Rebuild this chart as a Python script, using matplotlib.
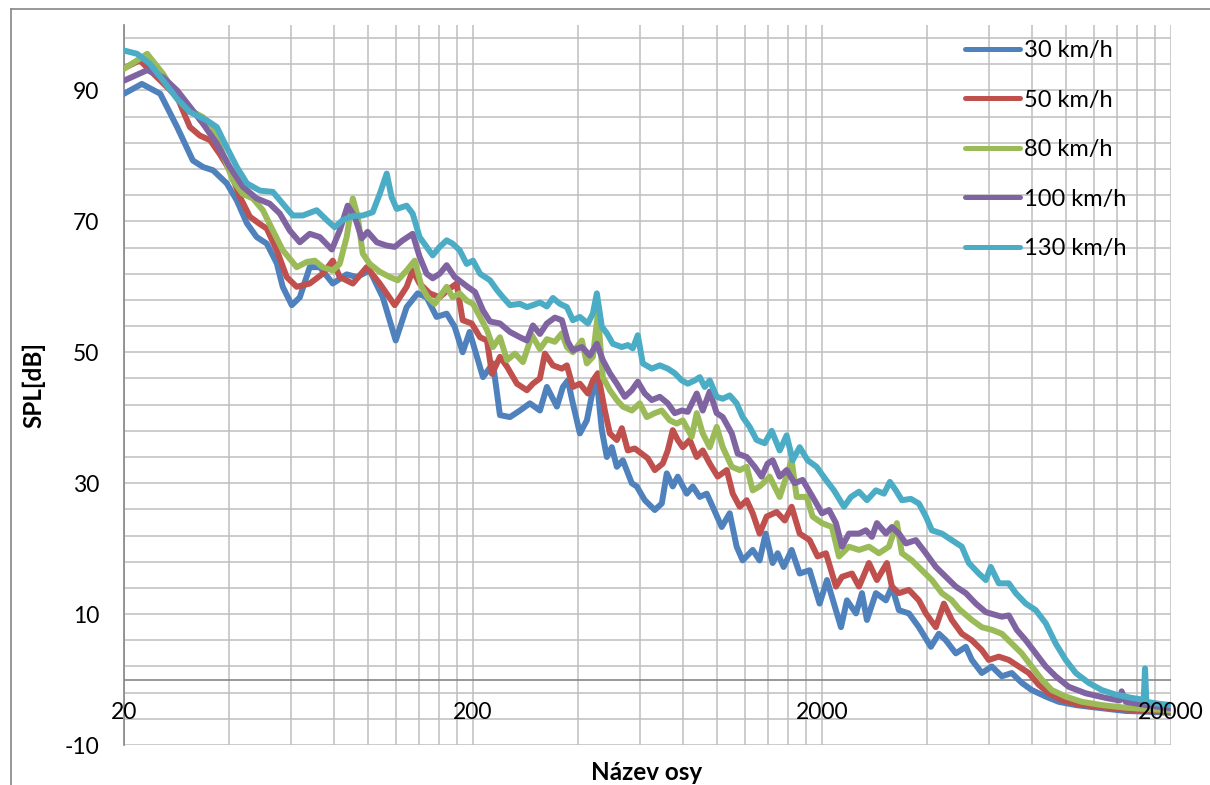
import numpy as np
import matplotlib
matplotlib.use("Agg")
import matplotlib.pyplot as plt
from matplotlib.lines import Line2D
from matplotlib.ticker import NullFormatter

plt.rcParams["font.family"] = ["Lato", "DejaVu Sans"]
plt.rcParams["axes.unicode_minus"] = False

# ---- data: frequency (Hz) and SPL (dB) per vehicle speed ----
f_30 = [20.0, 22.5, 25.4, 28.4, 31.5, 33.7, 36.0, 39.4, 42.1, 45.0, 48.0, 51.3, 54.8, 57.0,
        60.5, 63.8, 68.1, 72.8, 79.3, 86.9, 92.9, 101.2, 110.3, 120.1, 129.1, 138.8, 147.3,
        157.3, 168.1, 177.2, 186.8, 195.6, 213.6, 228.2, 238.9, 255.3, 272.6, 291.1, 311.0,
        325.6, 347.9, 361.9, 374.0, 386.5, 404.8, 423.9, 441.0, 452.8, 467.9, 483.6, 499.8,
        516.6, 537.4, 570.2, 589.3, 621.3, 663.6, 694.9, 718.2, 747.1, 772.2, 819.4, 852.4,
        892.7, 934.8, 972.5, 1032, 1088, 1139, 1185, 1266, 1325, 1379, 1444, 1493, 1553, 1637,
        1726, 1843, 1969, 2067, 2164, 2267, 2358, 2503, 2603, 2690, 2854, 3049, 3172, 3322,
        3549, 3790, 4102, 4324, 4528, 4836, 5166, 5374, 5740, 6131, 6549, 6995, 7471, 7980,
        8752, 9535, 10670, 11850, 13250, 14830, 16920, 20000]
spl_30 = [89.5, 91.0, 89.5, 84.4, 79.3, 78.3, 77.8, 75.8, 73.2, 69.7, 67.6, 66.6, 63.6, 60.0,
          57.2, 58.4, 63.0, 63.0, 60.5, 61.9, 61.5, 62.5, 58.4, 51.8, 56.9, 59.0, 58.4,
          55.4, 55.9, 53.9, 50.0, 53.1, 46.2, 48.3, 40.4, 40.1, 41.1, 42.2, 41.1,
          44.7, 41.7, 44.7, 45.7, 42.2, 37.6, 39.6, 44.2, 45.7, 38.1, 34.0, 35.5,
          32.5, 33.5, 30.0, 29.5, 27.4, 25.9, 26.9, 31.5, 29.5, 31.0, 28.4, 29.5,
          27.9, 28.4, 26.4, 23.3, 25.4, 20.3, 18.2, 19.8, 18.2, 22.3, 17.8, 19.3, 17.2, 19.8,
          16.2, 16.7, 11.6, 15.2, 11.6, 8.0, 12.1, 10.1, 13.2, 9.1, 13.2, 12.1, 14.2, 10.6,
          10.1, 8.0, 5.0, 7.0, 6.0, 4.0, 5.0, 3.0, 1.0, 2.0, 0.5, 1.0, -0.5, -1.6,
          -2.6, -3.4, -3.9, -4.2, -4.5, -4.8, -4.9, -5.1]

f_50 = [20.0, 22.2, 28.4, 30.9, 33.0, 35.3, 37.6, 40.2, 43.0, 45.9, 49.0, 51.3, 54.8, 58.5,
        62.5, 68.1, 74.2, 79.3, 83.0, 90.5, 99.2, 108.1, 119.3, 129.1, 134.3, 140.6, 150.3,
        160.5, 169.2, 179.5, 186.8, 198.2, 209.5, 219.3, 226.7, 238.9, 250.3, 267.2, 285.4,
        297.0, 311.0, 321.4, 338.8, 359.5, 371.5, 386.5, 404.8, 426.7, 441.0, 455.8, 477.3,
        493.3, 516.6, 533.9, 555.4, 581.6, 609.1, 633.6, 663.6, 699.5, 722.9, 747.1, 772.2,
        798.0, 835.8, 875.2, 910.5, 953.5, 1005, 1067, 1110, 1162, 1217, 1266, 1325, 1388,
        1483, 1564, 1637, 1726, 1843, 1943, 2053, 2193, 2282, 2437, 2553, 2726, 2873, 3069,
        3172, 3322, 3549, 3790, 3969, 4239, 4469, 4710, 5031, 5374, 5740, 6011, 6420, 6858,
        7325, 7825, 8358, 8927, 9725, 10880, 12410, 14250, 16920, 20000]
spl_50 = [93.4, 94.6, 89.0, 84.4, 83.1, 82.4, 80.3, 77.8, 73.7, 70.7, 69.6, 68.9, 65.6, 61.5,
          60.0, 60.5, 62.0, 64.0, 61.5, 60.5, 63.0, 60.5, 57.2, 60.0, 62.5, 60.5, 59.0,
          58.4, 59.5, 60.5, 54.9, 54.4, 52.3, 51.8, 46.7, 49.3, 47.8, 45.2, 44.2,
          45.2, 46.0, 49.8, 48.0, 47.5, 48.0, 44.7, 45.2, 43.7, 45.7, 46.8, 41.1,
          37.6, 36.6, 38.4, 35.0, 35.3, 34.5, 33.8, 32.0, 33.0, 35.0, 38.1, 36.6,
          35.5, 36.6, 34.0, 35.0, 33.0, 31.0, 32.0, 28.4, 26.4, 27.4, 25.4, 22.3, 24.9,
          25.6, 24.3, 26.4, 22.3, 21.3, 18.8, 19.3, 14.2, 15.7, 16.2, 14.2, 17.8, 15.2, 17.8,
          14.2, 13.2, 13.7, 12.1, 10.1, 8.0, 11.6, 9.1, 7.0, 6.0, 4.5, 3.0, 3.5, 3.0,
          2.0, 1.0, -0.8, -2.1, -3.1, -3.8, -4.2, -4.5, -4.8, -4.9]

f_80 = [20.0, 23.3, 25.9, 28.4, 30.9, 33.7, 36.0, 38.4, 41.0, 43.8, 46.8, 50.0, 53.4, 57.0,
        62.5, 66.8, 70.4, 74.2, 79.3, 83.0, 86.9, 90.5, 93.5, 96.6, 101.2, 108.1, 115.5,
        121.7, 129.1, 136.1, 142.5, 148.3, 155.3, 168.1, 174.8, 183.1, 191.8, 200.0, 209.5,
        219.3, 228.2, 238.9, 250.3, 263.8, 278.0, 295.1, 311.0, 325.6, 343.3, 359.5, 371.5,
        386.5, 410.2, 423.9, 441.0, 455.8, 471.0, 493.3, 516.6, 537.4, 570.2, 601.1, 629.4,
        663.6, 694.9, 732.5, 767.1, 798.0, 846.8, 875.2, 910.5, 953.5, 998.4, 1039, 1103,
        1162, 1217, 1266, 1325, 1388, 1416, 1513, 1637, 1692, 1807, 1880, 2000, 2136, 2237,
        2389, 2553, 2726, 2911, 3110, 3278, 3388, 3619, 3865, 4129, 4410, 4710, 4933, 5374,
        5740, 6131, 6549, 6995, 7471, 7980, 8524, 9105, 9984, 11100, 12660, 14830, 16920,
        20000]
spl_80 = [93.3, 95.6, 92.5, 89.0, 87.0, 85.9, 84.4, 80.3, 76.3, 74.2, 73.5, 71.7, 68.6, 65.6,
          63.0, 63.8, 64.0, 63.0, 62.5, 63.5, 67.6, 73.5, 70.7, 65.1, 63.5, 62.3, 61.5,
          61.0, 62.5, 64.0, 60.0, 58.4, 57.4, 60.0, 58.4, 59.0, 57.9, 57.4, 55.4,
          53.4, 50.8, 52.3, 48.8, 49.8, 48.5, 52.6, 50.5, 52.0, 51.6, 52.9, 50.8,
          50.0, 51.8, 48.3, 49.3, 55.9, 46.2, 44.2, 42.7, 41.7, 41.1, 42.2, 40.1,
          40.7, 41.1, 39.6, 39.1, 39.6, 37.1, 40.7, 37.6, 35.5, 38.6, 35.5, 32.5,
          32.0, 32.5, 28.9, 29.5, 30.5, 31.0, 27.9, 33.5, 27.9, 27.9, 24.9, 23.9, 23.3, 18.8,
          20.3, 19.8, 20.3, 19.3, 20.3, 23.9, 19.3, 18.2, 16.7, 15.2, 13.2, 12.1, 10.8, 9.1,
          8.0, 7.6, 7.0, 5.5, 4.0, 2.0, 0.0, -1.6, -2.6, -3.4, -3.9, -4.3, -4.5,
          -4.7]

f_100 = [20.0, 23.3, 25.9, 28.4, 30.9, 33.7, 36.9, 40.2, 43.8, 48.0, 52.3, 55.9, 59.7, 63.8,
         68.1, 72.8, 78.8, 83.0, 87.5, 91.7, 96.0, 99.8, 106.0, 113.2, 119.3, 125.8, 134.3,
         140.6, 147.3, 153.3, 160.5, 168.1, 177.2, 185.5, 193.0, 202.7, 213.6, 223.7, 238.9,
         255.3, 272.6, 285.4, 297.0, 311.0, 325.6, 343.3, 359.5, 374.0, 386.5, 410.2, 432.4,
         452.8, 471.0, 493.3, 516.6, 544.5, 570.2, 593.2, 621.3, 650.6, 685.8, 722.9, 757.0,
         792.8, 824.8, 875.2, 910.5, 953.5, 998.4, 1039, 1103, 1147, 1217, 1283, 1343, 1397,
         1444, 1513, 1584, 1670, 1760, 1880, 2000, 2095, 2193, 2282, 2389, 2553, 2672, 2780,
         2873, 3049, 3172, 3322, 3479, 3715, 3969, 4239, 4528, 4836, 5166, 5518, 5893, 6549,
         6858, 7229, 7671, 8194, 8752, 9348, 10180, 11390, 12990, 14250, 14440, 14830, 16920,
         20000]
spl_100 = [91.5, 93.1, 92.0, 90.0, 87.5, 84.9, 81.9, 78.3, 75.3, 73.5, 72.7, 71.2, 68.6, 66.8,
           68.1, 67.6, 65.7, 68.6, 72.4, 70.7, 67.4, 68.4, 66.8, 66.3, 66.1, 67.1, 68.1,
           64.6, 62.0, 61.3, 62.0, 63.3, 61.5, 60.7, 60.0, 59.2, 56.4, 54.7, 54.4,
           53.1, 52.3, 51.8, 54.1, 52.8, 54.4, 55.3, 54.9, 51.6, 50.3, 50.8, 49.5,
           51.3, 48.8, 46.8, 45.2, 43.2, 44.2, 45.5, 43.7, 42.7, 43.2, 42.2, 40.7,
           41.1, 40.9, 43.7, 41.1, 44.0, 40.7, 40.1, 37.6, 34.5, 34.0, 32.5, 31.0, 33.0,
           33.5, 31.0, 32.0, 30.0, 30.5, 27.9, 25.4, 25.9, 23.9, 20.3, 22.3, 22.3, 22.8, 21.8,
           23.9, 22.3, 23.3, 22.3, 20.8, 21.3, 19.3, 17.2, 15.7, 14.2, 13.2, 11.6, 10.3, 9.6,
           9.8, 7.6, 6.0, 4.0, 2.0, 0.5, -1.1, -2.1, -2.8, -3.2, -1.8, -3.4, -3.9,
           -4.4]

f_130 = [20.0, 21.8, 23.7, 25.9, 28.4, 30.9, 34.6, 36.9, 39.4, 42.1, 45.0, 49.0, 53.4, 57.0,
         60.9, 65.1, 71.3, 76.2, 80.3, 84.7, 90.5, 96.6, 103.2, 108.1, 113.2, 116.9, 120.9,
         129.1, 134.3, 140.6, 147.3, 153.3, 160.5, 168.1, 174.8, 183.1, 191.8, 200.0, 209.5,
         223.7, 234.3, 243.7, 255.3, 272.6, 285.4, 297.0, 311.0, 325.6, 338.8, 354.9, 371.5,
         386.5, 404.8, 426.7, 441.0, 452.8, 467.9, 483.6, 503.1, 533.9, 555.4, 574.0, 593.2,
         613.1, 650.6, 685.8, 722.9, 757.0, 792.8, 824.8, 863.7, 892.7, 922.6, 953.5, 998.4,
         1039, 1088, 1139, 1185, 1241, 1299, 1370, 1435, 1513, 1584, 1648, 1726, 1819, 1930,
         2053, 2164, 2312, 2421, 2553, 2690, 2854, 3010, 3130, 3256, 3388, 3595, 3790, 3969,
         4129, 4410, 4710, 5031, 5269, 5628, 5893, 6091, 6420, 6858, 7182, 7671, 8194, 8752,
         9348, 9984, 10670, 11620, 12660, 13880, 15430, 16700, 16850, 17000, 18430, 20000]
spl_130 = [96.1, 95.6, 94.1, 91.5, 88.7, 86.7, 85.4, 84.4, 81.3, 78.3, 75.8, 74.7, 74.5, 72.7,
           70.9, 70.9, 71.7, 70.2, 69.1, 70.2, 70.8, 70.9, 71.4, 74.2, 77.3, 73.7, 71.9,
           72.4, 71.2, 67.6, 66.1, 64.8, 66.1, 67.1, 66.6, 65.6, 63.5, 64.0, 62.0,
           61.0, 59.5, 58.4, 57.2, 57.4, 56.9, 57.2, 57.6, 57.0, 58.3, 57.4, 56.9,
           54.9, 55.4, 54.4, 55.9, 59.0, 53.9, 52.9, 51.3, 50.8, 51.1, 50.6, 52.6,
           48.3, 47.5, 48.0, 47.5, 46.8, 45.7, 45.2, 45.7, 46.2, 44.7, 45.7, 43.2,
           42.9, 43.4, 42.2, 40.1, 38.6, 36.6, 36.1, 38.0, 35.0, 37.3, 33.5, 35.5, 33.5, 32.5,
           30.5, 28.9, 26.4, 27.9, 28.7, 27.4, 28.9, 28.4, 30.2, 28.9, 27.4, 27.6, 26.9, 24.9,
           22.8, 22.3, 21.3, 20.3, 17.8, 16.2, 15.2, 17.2, 14.7, 14.7, 13.2, 11.6, 10.6, 8.6,
           5.5, 3.0, 1.0, -0.5, -1.6, -2.3, -2.8, -3.1, 1.7, -3.4, -3.7, -3.9]

series_labels = ["30 km/h", "50 km/h", "80 km/h", "100 km/h", "130 km/h"]
series_colors = ["#4F81BD", "#C0504D", "#9BBB59", "#8064A2", "#4BACC6"]

x_tick_values = [20, 200, 2000, 20000]
x_tick_labels = ["20", "200", "2000", "20000"]
y_tick_values = [-10, 10, 30, 50, 70, 90]

# ---- figure ----
W, H = 1210, 785
fig = plt.figure(figsize=(W / 100, H / 100), dpi=100)
ax = fig.add_axes([124 / W, 1 - 745 / H, (1171 - 124) / W, (745 - 25) / H])

grid_c = "#BFBFBF"
axis_c = "#868686"

ax.set_xscale("log")
ax.set_xlim(20, 20000)
ax.set_ylim(-10, 100)

# gridlines: decades starting at 20, minor steps of 20*k; y minor every 4 dB
minor_x = [m * d for d in (20, 200, 2000) for m in range(2, 10)]
ax.set_xticks(x_tick_values)
ax.set_xticks(minor_x, minor=True)
ax.xaxis.set_major_formatter(NullFormatter())
ax.xaxis.set_minor_formatter(NullFormatter())
ax.set_yticks(y_tick_values)
ax.set_yticks([v for v in np.arange(-10, 100, 4) if v not in y_tick_values], minor=True)
ax.yaxis.set_minor_formatter(NullFormatter())
ax.tick_params(axis="both", which="both", length=0)
ax.tick_params(axis="y", which="major", labelsize=16.5, pad=18, labelcolor="black")
ax.grid(True, which="both", color=grid_c, linewidth=1.1)
ax.set_axisbelow(True)

for s in ("top", "right", "bottom"):
    ax.spines[s].set_visible(False)
ax.spines["left"].set_color(axis_c)
ax.spines["left"].set_linewidth(1.2)

# horizontal axis line at 0 dB
ax.axhline(0, color=axis_c, linewidth=1.2, zorder=1.5)

for fx, fy, lab, col in zip([f_30, f_50, f_80, f_100, f_130],
                            [spl_30, spl_50, spl_80, spl_100, spl_130],
                            series_labels, series_colors):
    ax.plot(fx, fy, color=col, lw=4.3, label=lab,
            solid_joinstyle="round", solid_capstyle="round", zorder=3)

# x tick labels sit just below the 0 dB axis line
for v, t in zip(x_tick_values, x_tick_labels):
    ax.text(v, -5.0, t, ha="center", va="center", fontsize=16.5, clip_on=False, zorder=4)

ax.set_ylabel("SPL[dB]", fontsize=17.5, fontweight="bold")
ax.yaxis.set_label_coords(-(124 - 45) / (1171 - 124), 0.5)
fig.text(647 / W, 1 - 772 / H, "Název osy", ha="center", va="center",
         fontsize=17.5, fontweight="bold")

leg = ax.legend(loc="upper left", bbox_to_anchor=(965 / W, 1 - 40 / H),
                bbox_transform=fig.transFigure, frameon=False, fontsize=17,
                handlelength=2.33, handletextpad=0.17, labelspacing=1.21,
                borderaxespad=0, borderpad=0)
for h in leg.get_lines():
    h.set_solid_capstyle("round")
    h.set_linewidth(3.6)

# chart frame
fig.add_artist(Line2D([10.5 / W, 10.5 / W], [0, 1 - 8.5 / H], color=axis_c, lw=1.2,
                      transform=fig.transFigure))
fig.add_artist(Line2D([10.5 / W, 1], [1 - 8.5 / H, 1 - 8.5 / H], color=axis_c, lw=1.2,
                      transform=fig.transFigure))

fig.savefig("out.png", dpi=100)
